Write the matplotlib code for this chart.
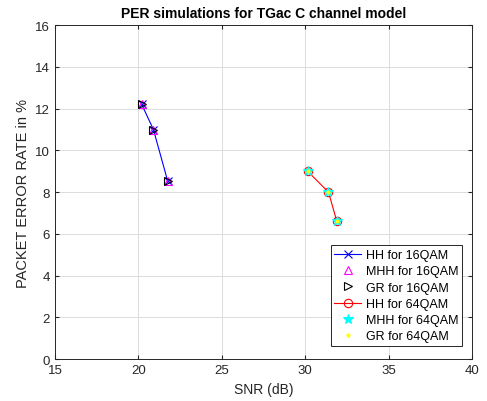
import matplotlib.pyplot as plt
import numpy as np

# PER values
snr_16qam = [20.2, 20.9, 21.75]
per_16qam = [12.2, 11.0, 8.55]
snr_64qam = [30.15, 31.4, 31.9]
per_64qam = [9.0, 8.0, 6.6]

xticks = [15, 20, 25, 30, 35, 40]
yticks = [0, 2, 4, 6, 8, 10, 12, 14, 16]

plt.rcParams['font.family'] = ['Liberation Sans', 'DejaVu Sans']

fig = plt.figure(figsize=(4.87, 4.02), dpi=100)
ax = fig.add_axes([0.113, 0.104, 0.856, 0.831])

ax.plot(snr_16qam, per_16qam, color='blue', marker='x', lw=0.8, ms=6, mew=0.8,
        label='HH for 16QAM')
ax.plot(snr_16qam, per_16qam, ls='none', marker='^', color='magenta', mfc='none',
        ms=6, mew=0.8, label='MHH for 16QAM')
ax.plot(snr_16qam, per_16qam, ls='none', marker='>', color='black', mfc='none',
        ms=6, mew=0.8, label='GR for 16QAM')
ax.plot(snr_64qam, per_64qam, color='red', marker='o', mfc='none', lw=0.8, ms=6,
        mew=0.8, label='HH for 64QAM')
ax.plot(snr_64qam, per_64qam, ls='none', marker='*', color='cyan', ms=7, mew=0.8,
        label='MHH for 64QAM')
ax.plot(snr_64qam, per_64qam, ls='none', marker='.', color='yellow', ms=4,
        label='GR for 64QAM')

ax.set_xlim(15, 40)
ax.set_ylim(0, 16)
ax.set_xticks(xticks)
ax.set_yticks(yticks)
ax.grid(True, color='#dcdcdc', lw=0.7)
ax.set_axisbelow(True)
ax.tick_params(direction='in', labelsize=9.5, length=3, colors='#262626',
               top=True, right=True)
for s in ax.spines.values():
    s.set_color('#262626')
    s.set_linewidth(0.7)

ax.set_xlabel('SNR (dB)', fontsize=10, color='#262626')
ax.set_ylabel('PACKET ERROR RATE in %', fontsize=10.5, color='#262626')
ax.set_title('PER simulations for TGac C channel model', fontsize=10,
             fontweight='bold')

leg = ax.legend(loc='lower right', bbox_to_anchor=(0.976, 0.039), fontsize=9,
                fancybox=False, framealpha=1, edgecolor='#262626',
                borderpad=0.3, labelspacing=0.34, handlelength=2.1,
                handletextpad=0.4, borderaxespad=0)
leg.get_frame().set_linewidth(0.7)

fig.savefig('out.png', dpi=100)
